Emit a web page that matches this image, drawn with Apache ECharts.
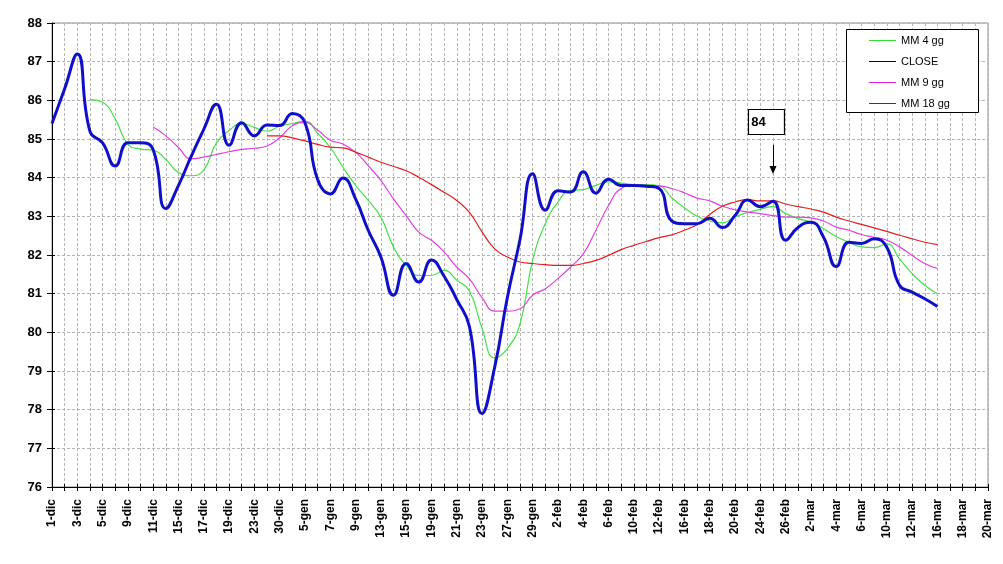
<!DOCTYPE html>
<html>
<head>
<meta charset="utf-8">
<script src="https://cdn.jsdelivr.net/npm/echarts@6/dist/echarts.min.js"></script>
<style>
html,body{margin:0;padding:0;background:#fff;}
#c{width:1003px;height:564px;}
</style>
</head>
<body>
<div id="c"></div>
<script>
var categories = ['1-dic','2-dic','3-dic','4-dic','5-dic','8-dic','9-dic','10-dic','11-dic','12-dic',
'15-dic','16-dic','17-dic','18-dic','19-dic','22-dic','23-dic','29-dic','30-dic','2-gen',
'5-gen','6-gen','7-gen','8-gen','9-gen','12-gen','13-gen','14-gen','15-gen','16-gen',
'19-gen','20-gen','21-gen','22-gen','23-gen','26-gen','27-gen','28-gen','29-gen','30-gen',
'2-feb','3-feb','4-feb','5-feb','6-feb','9-feb','10-feb','11-feb','12-feb','13-feb',
'16-feb','17-feb','18-feb','19-feb','20-feb','23-feb','24-feb','25-feb','26-feb','27-feb',
'2-mar','3-mar','4-mar','5-mar','6-mar','9-mar','10-mar','11-mar','12-mar','13-mar',
'16-mar','17-mar','18-mar','19-mar','20-mar'];

var close = [85.4,86.3,87.2,85.2,84.9,84.3,84.9,84.9,84.72,83.2,
83.8,84.55,85.25,85.9,84.84,85.42,85.08,85.36,85.35,85.66,
85.42,83.95,83.58,83.99,83.45,82.64,81.95,80.96,81.78,81.3,
81.87,81.45,80.85,80.15,77.9,79.1,80.9,82.4,84.1,83.16,
83.66,83.63,84.15,83.6,83.96,83.8,83.8,83.78,83.72,82.88,
82.81,82.81,82.95,82.71,83.02,83.42,83.25,83.39,82.38,82.72,
82.85,82.46,81.7,82.33,82.3,82.42,82.2,81.22,81.04,80.87,
80.67,null,null,null,null];

var mm4 = [null,null,null,86.02,85.95,85.52,84.87,84.74,84.71,84.47,
84.13,84.05,84.2,84.9,85.22,85.4,85.3,85.2,85.33,85.4,
85.46,85.15,84.78,84.27,83.8,83.41,82.98,82.21,81.73,81.47,
81.47,81.6,81.35,81.07,80.1,79.34,79.58,80.22,81.86,82.81,
83.37,83.67,83.69,83.8,83.89,83.86,83.82,83.82,83.79,83.48,
83.22,83.0,82.88,82.83,82.99,83.1,83.18,83.25,83.07,82.94,
82.85,82.68,82.48,82.33,82.21,82.19,82.29,81.9,81.52,81.22,
81.0,null,null,null,null];

var mm9 = [null,null,null,null,null,null,null,null,85.31,85.08,
84.78,84.49,84.53,84.6,84.67,84.73,84.76,84.82,85.03,85.34,
85.43,85.23,84.97,84.87,84.66,84.31,83.93,83.45,83.02,82.59,
82.38,82.08,81.69,81.38,80.9,80.55,80.55,80.61,80.96,81.13,
81.39,81.69,82.03,82.64,83.28,83.72,83.8,83.8,83.79,83.72,
83.61,83.47,83.4,83.26,83.17,83.11,83.07,83.02,82.98,82.98,
82.96,82.88,82.72,82.64,82.53,82.46,82.38,82.21,81.99,81.78,
81.65,null,null,null,null];

var mm18 = [null,null,null,null,null,null,null,null,null,null,
null,null,null,null,null,null,null,85.08,85.08,85.03,
84.95,84.86,84.79,84.77,84.66,84.53,84.4,84.29,84.18,84.01,
83.82,83.62,83.41,83.1,82.6,82.16,81.95,81.82,81.78,81.75,
81.73,81.73,81.78,81.86,81.99,82.14,82.25,82.35,82.45,82.52,
82.64,82.79,83.05,83.26,83.37,83.43,83.4,83.4,83.32,83.25,
83.19,83.11,82.98,82.88,82.79,82.7,82.61,82.51,82.42,82.33,
82.27,null,null,null,null];

var yTicks = {min:76, max:88, interval:1};
var annotation = {category:'25-feb', text:'84', boxValue:85.44, arrowFrom:84.85, arrowTo:84.2};

var chart = echarts.init(document.getElementById('c'), null, {renderer:'canvas'});
var FONT = '"Liberation Sans", Arial, sans-serif';
var dashed = {color:'#b4b4b4', type:[3,2], width:1};

var option = {
  animation:false,
  backgroundColor:'#fff',
  grid:{left:52, right:15, top:23, bottom:77, show:true, borderColor:'#8c8c8c', borderWidth:1, backgroundColor:'#fff'},
  xAxis:[{
    type:'category', data:categories, boundaryGap:false, position:'bottom',
    axisLine:{show:true, lineStyle:{color:'#000', width:1}},
    axisTick:{show:true, interval:0, length:4, lineStyle:{color:'#000'}},
    axisLabel:{interval:1, rotate:90, margin:12, color:'#000', fontFamily:FONT, fontWeight:'bold', fontSize:12},
    splitLine:{show:true, interval:0, lineStyle:dashed}
  },{
    type:'category', data:categories, boundaryGap:false, position:'bottom', gridIndex:0,
    axisLine:{show:false},
    axisTick:{show:true, inside:true, interval:0, length:3, lineStyle:{color:'#000'}},
    axisLabel:{show:false}, splitLine:{show:false}
  }],
  yAxis:[{
    type:'value', min:yTicks.min, max:yTicks.max, interval:yTicks.interval,
    axisLine:{show:true, lineStyle:{color:'#000', width:1}},
    axisTick:{show:true, length:5, lineStyle:{color:'#000'}},
    axisLabel:{margin:10, color:'#000', fontFamily:FONT, fontWeight:'bold', fontSize:13},
    splitLine:{show:true, lineStyle:dashed}
  },{
    type:'value', min:yTicks.min, max:yTicks.max, interval:yTicks.interval, position:'left',
    axisLine:{show:false},
    axisTick:{show:true, inside:true, length:3, lineStyle:{color:'#000'}},
    axisLabel:{show:false}, splitLine:{show:false}
  }],
  legend:{
    orient:'vertical', left:869, top:34, padding:0, itemGap:8,
    itemWidth:27, itemHeight:1, z:20, icon:'rect',
    textStyle:{fontFamily:FONT, fontSize:11, color:'#000', lineHeight:13},
    data:[
      {name:'MM 4 gg', itemStyle:{color:'#33dd33'}},
      {name:'CLOSE', itemStyle:{color:'#000080'}},
      {name:'MM 9 gg', itemStyle:{color:'#dd22dd'}},
      {name:'MM 18 gg', itemStyle:{color:'#cc0000'}}
    ]
  },
  graphic:[{
    type:'rect', z:15, left:846, top:29,
    shape:{width:132, height:83},
    style:{fill:'#fff', stroke:'#000', lineWidth:1}
  }],
  series:[
    {name:'MM 4 gg', type:'line', data:mm4, smooth:0.5, symbol:'none', z:3,
     itemStyle:{color:'#33dd33'}, lineStyle:{color:'#44e044', width:1.2}},
    {name:'CLOSE', type:'line', data:close, smooth:0.5, symbol:'none', z:6,
     itemStyle:{color:'#1010c0'}, lineStyle:{color:'#1010c8', width:3},
     markPoint:{
       silent:true, animation:false,
       data:[{coord:[annotation.category, annotation.boxValue], symbol:'rect', symbolSize:[36,25], symbolOffset:[-6.5,0],
         itemStyle:{color:'#fff', borderColor:'#000', borderWidth:1},
         label:{show:true, position:'inside', formatter:annotation.text, color:'#000', fontFamily:FONT, fontWeight:'bold', fontSize:13, offset:[-8,0]}}]
     },
     markLine:{
       silent:true, animation:false, symbol:['none','triangle'], symbolSize:[7,8],
       lineStyle:{color:'#000', width:1, type:'solid'},
       label:{show:false},
       data:[[{coord:[annotation.category, annotation.arrowFrom]},{coord:[annotation.category, annotation.arrowTo]}]]
     }},
    {name:'MM 9 gg', type:'line', data:mm9, smooth:0.5, symbol:'none', z:4,
     itemStyle:{color:'#dd33dd'}, lineStyle:{color:'#e040e0', width:1.2}},
    {name:'MM 18 gg', type:'line', data:mm18, smooth:0.5, symbol:'none', z:5,
     itemStyle:{color:'#cc1111'}, lineStyle:{color:'#e02020', width:1.2}}
  ]
};
chart.setOption(option);
</script>
</body>
</html>
